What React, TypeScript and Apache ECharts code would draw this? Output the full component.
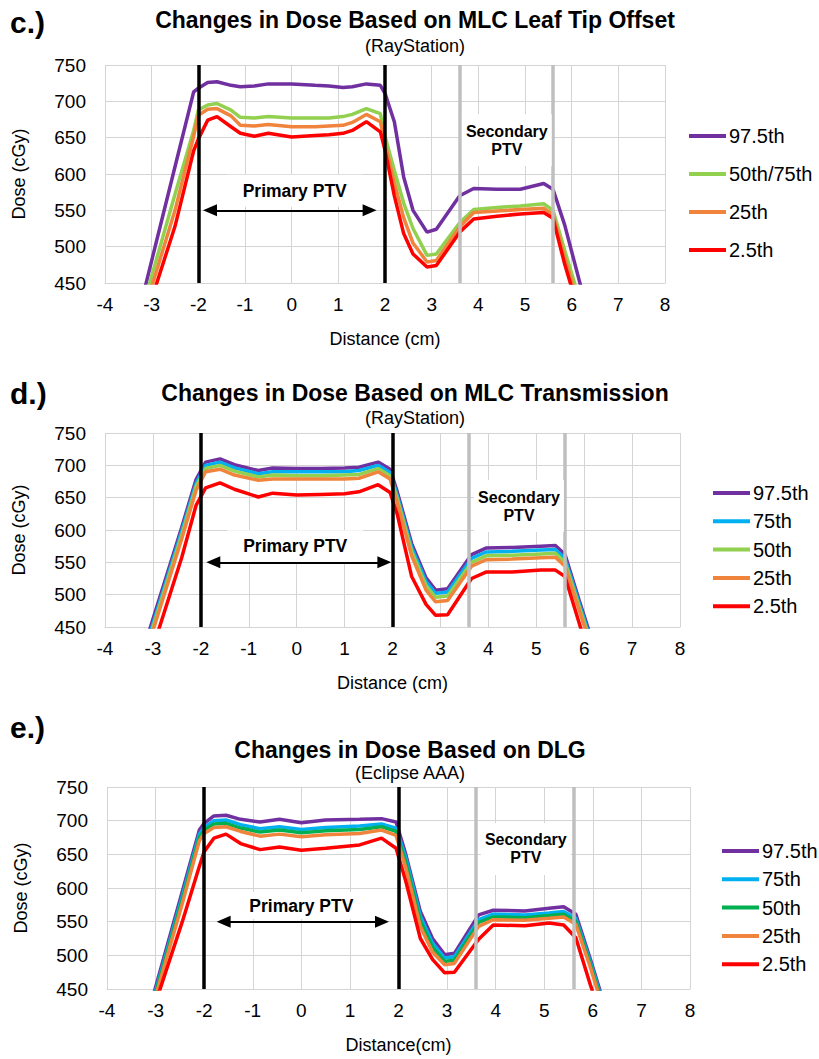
import React, { useEffect, useRef } from "react";
import * as echarts from "echarts";

const FONT = "Arial, 'Liberation Sans', sans-serif";

// Panel c: MLC Leaf Tip Offset (RayStation)
const xC = [-3.25, -2.5, -2.1, -2.0, -1.8, -1.6, -1.3, -1.1, -0.8, -0.5, 0, 0.5, 0.8, 1.1, 1.3, 1.6, 1.9, 2.0, 2.2, 2.4, 2.6, 2.9, 3.1, 3.6, 3.9, 4.4, 4.9, 5.4, 5.6, 5.85, 6.25];
const c975 = [416, 610, 713, 718, 726, 727, 722, 720, 721, 724, 724, 722, 721, 719, 720, 724, 722, 711, 672, 596, 550, 520, 524, 570, 580, 579, 579, 587, 579, 530, 432];
const c5075 = [403, 572, 660, 688, 695, 697, 688, 678, 677, 679, 677, 677, 677, 679, 682, 690, 683, 652, 605, 560, 525, 488, 490, 533, 551, 554, 556, 559, 550, 495, 410];
const c25 = [392, 550, 652, 681, 689, 690, 680, 667, 666, 668, 665, 665, 666, 667, 671, 682, 672, 642, 588, 540, 505, 479, 481, 527, 547, 549, 551, 553, 544, 485, 400];
const c25th = [378, 528, 632, 648, 674, 679, 665, 656, 652, 656, 651, 653, 654, 656, 660, 672, 658, 633, 570, 518, 490, 472, 474, 520, 538, 542, 545, 547, 539, 476, 390];

// Panel d: MLC Transmission (RayStation)
const xD = [-3.25, -2.4, -2.1, -1.9, -1.6, -1.3, -0.8, -0.5, 0, 0.5, 1.0, 1.3, 1.7, 1.95, 2.1, 2.4, 2.7, 2.9, 3.15, 3.65, 3.95, 4.5, 5.1, 5.4, 5.6, 5.9, 6.25];
const d975 = [403, 604, 678, 705, 710, 701, 692, 696, 695, 695, 696, 697, 705, 694, 659, 579, 526, 507, 509, 562, 572, 573, 575, 576, 562, 490, 410];
const d75 = [395, 598, 672, 700, 705, 696, 687, 690, 690, 690, 690, 692, 700, 689, 653, 573, 520, 502, 504, 556, 566, 567, 569, 570, 556, 485, 405];
const d50 = [390, 592, 667, 695, 700, 691, 682, 685, 684, 684, 685, 686, 695, 684, 648, 567, 514, 496, 498, 550, 560, 561, 563, 564, 550, 480, 400];
const d25 = [385, 586, 661, 690, 694, 685, 677, 679, 679, 679, 679, 680, 690, 679, 642, 560, 507, 489, 491, 544, 554, 555, 557, 558, 544, 475, 395];
const d2 = [360, 557, 638, 665, 673, 663, 651, 657, 654, 655, 656, 659, 670, 658, 624, 528, 485, 468, 469, 525, 535, 535, 538, 538, 528, 455, 370];

// Panel e: DLG (Eclipse AAA)
const xE = [-3.25, -2.45, -2.1, -2.0, -1.8, -1.55, -1.25, -0.85, -0.45, 0, 0.5, 1.2, 1.65, 1.95, 2.15, 2.45, 2.7, 2.95, 3.15, 3.65, 3.95, 4.6, 5.1, 5.4, 5.65, 5.95, 6.3];
const e975 = [388, 595, 686, 696, 707, 708, 702, 698, 702, 697, 701, 702, 703, 698, 650, 565, 525, 501, 503, 560, 567, 566, 570, 572, 561, 494, 412];
const e75 = [383, 588, 680, 690, 700, 701, 694, 688, 691, 687, 690, 692, 695, 689, 645, 558, 518, 496, 498, 553, 561, 560, 563, 565, 555, 490, 408];
const e50 = [380, 583, 675, 686, 695, 696, 689, 683, 686, 682, 685, 687, 691, 684, 638, 551, 512, 491, 493, 549, 557, 556, 559, 561, 551, 486, 404];
const e25 = [376, 577, 670, 681, 690, 691, 684, 677, 680, 676, 679, 681, 686, 678, 630, 543, 505, 486, 488, 543, 553, 552, 555, 557, 546, 482, 400];
const e2 = [375, 550, 632, 654, 674, 680, 666, 657, 661, 656, 659, 664, 674, 659, 610, 525, 494, 474, 475, 524, 545, 544, 548, 545, 526, 456, 380];

const X_TICKS = { min: -4, max: 8, interval: 1 };
const Y_TICKS = { min: 450, max: 750, interval: 50 };
const PTV_PRIMARY = [-2, 2];
const PTV_SECONDARY = [3.6, 5.6];
const ARROW_DOSE = 550;

const PURPLE = "#7030A0";
const BLUE = "#00B0F0";
const LGREEN = "#92D050";
const GREEN = "#00B050";
const ORANGE = "#F0843C";
const RED = "#FF0000";

const panels = [
  {
    key: "c",
    label: "c.)",
    title: "Changes in Dose Based on MLC Leaf Tip Offset",
    subtitle: "(RayStation)",
    xName: "Distance (cm)",
    x: xC,
    series: [
      { name: "97.5th", color: PURPLE, data: c975 },
      { name: "50th/75th", color: LGREEN, data: c5075 },
      { name: "25th", color: ORANGE, data: c25 },
      { name: "2.5th", color: RED, data: c25th },
    ],
    grid: { left: 105, top: 65, width: 560, height: 218 },
    legend: { left: 684, top: 121, gap: 18 },
    labelY: 22,
    titleY: 20,
    subY: 46,
    titleX: 415,
    arrow: [-1.75, 1.67],
    primaryText: [0.065, 577],
    primaryPadTop: 9,
    secondaryText: [4.61, 646.5],
  },
  {
    key: "d",
    label: "d.)",
    title: "Changes in Dose Based on MLC Transmission",
    subtitle: "(RayStation)",
    xName: "Distance (cm)",
    x: xD,
    series: [
      { name: "97.5th", color: PURPLE, data: d975 },
      { name: "75th", color: BLUE, data: d75 },
      { name: "50th", color: LGREEN, data: d50 },
      { name: "25th", color: ORANGE, data: d25 },
      { name: "2.5th", color: RED, data: d2 },
    ],
    grid: { left: 105, top: 433, width: 575, height: 194 },
    legend: { left: 708, top: 478, gap: 8.3 },
    labelY: 393,
    titleY: 393,
    subY: 418,
    titleX: 415,
    arrow: [-1.74, 1.83],
    primaryText: [-0.03, 575],
    primaryPadTop: 9,
    secondaryText: [4.64, 637],
  },
  {
    key: "e",
    label: "e.)",
    title: "Changes in Dose Based on DLG",
    subtitle: "(Eclipse AAA)",
    xName: "Distance(cm)",
    x: xE,
    series: [
      { name: "97.5th", color: PURPLE, data: e975 },
      { name: "75th", color: BLUE, data: e75 },
      { name: "50th", color: GREEN, data: e50 },
      { name: "25th", color: ORANGE, data: e25 },
      { name: "2.5th", color: RED, data: e2 },
    ],
    grid: { left: 107, top: 787, width: 583, height: 202 },
    legend: { left: 717, top: 836, gap: 8.3 },
    labelY: 727,
    titleY: 750,
    subY: 773,
    titleX: 410,
    arrow: [-1.6, 1.66],
    primaryText: [0, 574],
    primaryPadTop: 4,
    secondaryText: [4.62, 658],
  },
];

export default function App() {
  const ref = useRef<HTMLDivElement>(null);
  useEffect(() => {
    const chart = echarts.init(ref.current!, null, { renderer: "svg" });
    const grids: any[] = [];
    const xAxes: any[] = [];
    const yAxes: any[] = [];
    const series: any[] = [];
    const legends: any[] = [];
    const graphics: any[] = [];

    panels.forEach((p, i) => {
      grids.push({ ...p.grid, containLabel: false });
      xAxes.push({
        type: "value",
        gridIndex: i,
        ...X_TICKS,
        name: p.xName,
        nameLocation: "middle",
        nameGap: 47,
        nameTextStyle: { fontSize: 18, color: "#000", fontFamily: FONT },
        axisLine: { show: true, lineStyle: { color: "#D4D4D4", width: 1 } },
        axisTick: { show: false },
        axisLabel: { fontSize: 19, color: "#000", margin: 12, fontFamily: FONT },
        splitLine: { show: true, lineStyle: { color: "#D4D4D4", width: 1 } },
      });
      yAxes.push({
        type: "value",
        gridIndex: i,
        ...Y_TICKS,
        name: "Dose (cGy)",
        nameLocation: "middle",
        nameGap: 77,
        nameRotate: 90,
        nameTextStyle: { fontSize: 18, color: "#000", fontFamily: FONT },
        axisLine: { show: true, lineStyle: { color: "#D4D4D4", width: 1 } },
        axisTick: { show: false },
        axisLabel: { fontSize: 19, color: "#000", margin: 19, fontFamily: FONT },
        splitLine: { show: true, lineStyle: { color: "#D4D4D4", width: 1 } },
      });

      p.series.forEach((s) => {
        series.push({
          type: "line",
          name: `${p.key}|${s.name}`,
          xAxisIndex: i,
          yAxisIndex: i,
          data: p.x.map((xv, k) => [xv, s.data[k]]),
          symbol: "none",
          clip: true,
          lineStyle: { color: s.color, width: 3.5 },
          itemStyle: { color: s.color },
          z: 3,
        });
      });

      // PTV boundary lines
      series.push({
        type: "line",
        name: `${p.key}|ptv`,
        xAxisIndex: i,
        yAxisIndex: i,
        data: [],
        silent: true,
        markLine: {
          silent: true,
          symbol: ["none", "none"],
          label: { show: false },
          z: 6,
          data: [
            ...PTV_PRIMARY.map((v) => ({ xAxis: v, lineStyle: { color: "#000", width: 3.5, type: "solid" } })),
            ...PTV_SECONDARY.map((v) => ({ xAxis: v, lineStyle: { color: "#BFBFBF", width: 3.5, type: "solid" } })),
          ],
        },
      });

      // text labels (white boxes)
      series.push({
        type: "line",
        name: `${p.key}|txt`,
        xAxisIndex: i,
        yAxisIndex: i,
        data: [],
        silent: true,
        markPoint: {
          silent: true,
          symbol: "rect",
          symbolSize: 1,
          itemStyle: { color: "rgba(0,0,0,0)" },
          z: 7,
          label: {
            show: true,
            position: "inside",
            color: "#000",
            fontWeight: "bold",
            fontFamily: FONT,
            backgroundColor: "#fff",
          },
          data: [
            {
              coord: p.primaryText,
              label: {
                formatter: "Primary PTV",
                fontSize: 17.5,
                lineHeight: 20,
                padding: [p.primaryPadTop, 16, 3, 16],
              },
            },
            {
              coord: p.secondaryText,
              label: { formatter: "Secondary\nPTV", fontSize: 16, lineHeight: 18, padding: [8, 4] },
            },
          ],
        },
      });

      // Primary PTV double arrow
      series.push({
        type: "line",
        name: `${p.key}|arrow`,
        xAxisIndex: i,
        yAxisIndex: i,
        data: [],
        silent: true,
        markLine: {
          silent: true,
          symbol: ["triangle", "triangle"],
          symbolSize: [12, 14],
          label: { show: false },
          lineStyle: { color: "#000", width: 2, type: "solid" },
          itemStyle: { color: "#000" },
          z: 9,
          data: [[{ coord: [p.arrow[0], ARROW_DOSE] }, { coord: [p.arrow[1], ARROW_DOSE] }]],
        },
      });

      legends.push({
        orient: "vertical",
        left: p.legend.left,
        top: p.legend.top,
        itemGap: p.legend.gap,
        itemWidth: 37,
        itemHeight: 4,
        icon: "rect",
        selectedMode: false,
        data: p.series.map((s) => ({ name: `${p.key}|${s.name}`, itemStyle: { color: s.color } })),
        formatter: (n: string) => n.split("|")[1],
        textStyle: { fontSize: 20, color: "#000", fontFamily: FONT, lineHeight: 20, padding: [0, 0, 0, -2] },
      });

      graphics.push(
        {
          type: "text",
          x: 10,
          y: p.labelY,
          style: { text: p.label, fontSize: 30, fontWeight: "bold", fill: "#000", fontFamily: FONT, align: "left", verticalAlign: "middle" },
        },
        {
          type: "text",
          x: p.titleX,
          y: p.titleY,
          style: { text: p.title, fontSize: 23, fontWeight: "bold", fill: "#000", fontFamily: FONT, align: "center", verticalAlign: "middle" },
        },
        {
          type: "text",
          x: p.titleX,
          y: p.subY,
          style: { text: p.subtitle, fontSize: 18, fill: "#000", fontFamily: FONT, align: "center", verticalAlign: "middle" },
        }
      );
    });

    chart.setOption({
      animation: false,
      backgroundColor: "#fff",
      textStyle: { fontFamily: FONT },
      grid: grids,
      xAxis: xAxes,
      yAxis: yAxes,
      legend: legends,
      series,
      graphic: graphics,
    });
    return () => chart.dispose();
  }, []);
  return (
    <div
      ref={ref}
      style={{ position: "absolute", left: 0, top: 0, width: 819, height: 1059, background: "#fff" }}
    />
  );
}
